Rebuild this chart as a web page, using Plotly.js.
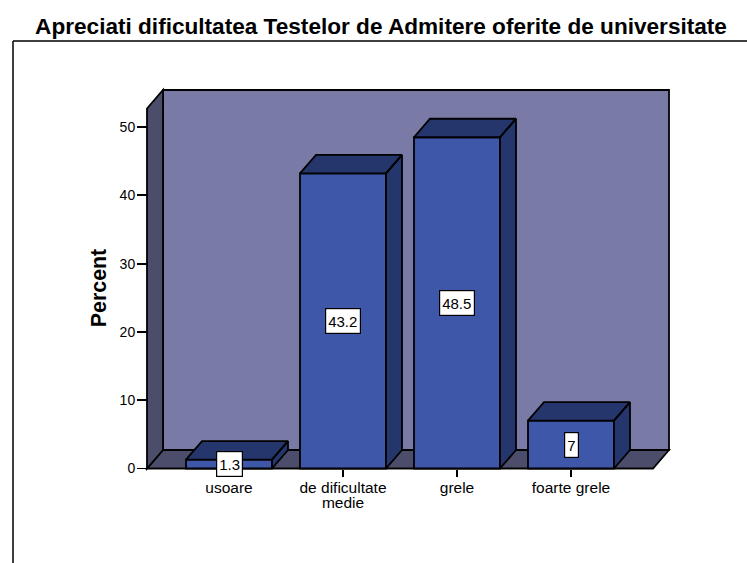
<!DOCTYPE html>
<html>
<head>
<meta charset="utf-8">
<script src="https://cdn.plot.ly/plotly-3.0.1.min.js"></script>
<style>html,body{margin:0;padding:0;background:#fff;overflow:hidden}</style>
</head>
<body>
<div id="chart" style="width:747px;height:563px"></div>
<script>
const categories = ["usoare", "de dificultate<br>medie", "grele", "foarte grele"];
const percents = [1.3, 43.2, 48.5, 7];
const labels = ["1.3", "43.2", "48.5", "7"];
const yTicks = [0, 10, 20, 30, 40, 50];

const FRONT = "#3e57a9", DARK = "#25366c", BACK = "#7a7aa7", WALL = "#4c4c6b";
const FONT = "Liberation Sans, Arial, sans-serif";

// scale of the drawing
const pxX = 114, pxY = 6.83, x0px = 229, y0px = 468.5;
const L = 140, R = 676, T = 84, B = 492;
const depthX = 16 / pxX, depthY = 18.5 / pxY, halfBar = 43 / pxX;
const frontL = (147 - x0px) / pxX, frontR = (653 - x0px) / pxX, frontTop = (y0px - 108.5) / pxY;
const xRange = [(L - x0px) / pxX, (R - x0px) / pxX];
const yRange = [(y0px - B) / pxY, (y0px - T) / pxY];

const xs = categories.map((_, i) => i);
const outline = {color: "#000", width: 1.8};

function poly(pts, fill) {
  return {
    type: "path", layer: "below", xref: "x", yref: "y",
    path: "M" + pts.map(p => p[0] + "," + p[1]).join("L") + "Z",
    fillcolor: fill, line: outline
  };
}

const shapes = [
  poly([[frontL + depthX, depthY], [frontR + depthX, depthY], [frontR + depthX, frontTop + depthY], [frontL + depthX, frontTop + depthY]], BACK),
  poly([[frontL, 0], [frontL + depthX, depthY], [frontR + depthX, depthY], [frontR, 0]], WALL),
  poly([[frontL, 0], [frontL, frontTop], [frontL + depthX, frontTop + depthY], [frontL + depthX, depthY]], WALL),
  // outer frame
  {type: "line", xref: "paper", yref: "paper",
   x0: (13 - L) / (R - L), x1: (747 - L) / (R - L), y0: (B - 41) / (B - T), y1: (B - 41) / (B - T),
   line: {color: "#000", width: 1.5}},
  {type: "line", xref: "paper", yref: "paper",
   x0: (13 - L) / (R - L), x1: (13 - L) / (R - L), y0: (B - 41) / (B - T), y1: (B - 563) / (B - T),
   line: {color: "#000", width: 1.5}}
];

const traces = [{
  type: "bar", x: xs, y: percents, width: 2 * halfBar,
  marker: {color: FRONT, line: {color: "#000", width: 1.8}},
  hoverinfo: "skip", showlegend: false, cliponaxis: false
}];

percents.forEach((v, i) => {
  const l = i - halfBar, r = i + halfBar;
  traces.push({
    type: "scatter", mode: "lines", fill: "toself", fillcolor: DARK,
    x: [l, l + depthX, r + depthX, r, l, null, r, r + depthX, r + depthX, r, r],
    y: [v, v + depthY, v + depthY, v, v, null, v, v + depthY, depthY, 0, v],
    line: {color: "#000", width: 1.8}, hoverinfo: "skip", showlegend: false
  });
});

const annotations = percents.map((v, i) => ({
  x: i, y: v / 2, xref: "x", yref: "y", text: labels[i], showarrow: false,
  font: {family: FONT, size: 15, color: "#000"},
  bgcolor: "#fff", bordercolor: "#000", borderwidth: 1.2, borderpad: 2, height: 20
}));

const layout = {
  width: 747, height: 563, autosize: false,
  paper_bgcolor: "#fff", plot_bgcolor: "rgba(0,0,0,0)",
  margin: {l: L, r: 747 - R, t: T, b: 563 - B, pad: 0},
  showlegend: false,
  title: {
    text: "Apreciati dificultatea Testelor de Admitere oferite de universitate",
    font: {family: FONT, size: 22.6, color: "#000", weight: "bold"},
    x: 381 / 747, xanchor: "center", xref: "container",
    y: 1 - 26 / 563, yanchor: "middle"
  },
  xaxis: {
    range: xRange, tickvals: xs, ticktext: categories, tickmode: "array",
    anchor: "free", position: (B - y0px) / (B - T),
    showgrid: false, zeroline: false, showline: false,
    ticks: "outside", ticklen: 7, tickwidth: 1.8, tickcolor: "#000",
    tickfont: {family: FONT, size: 15.5, color: "#000"}, tickangle: 0,
    ticklabelstandoff: -2
  },
  yaxis: {
    range: yRange, tickvals: yTicks, tickmode: "array",
    anchor: "free", position: (147 - L) / (R - L),
    showgrid: false, zeroline: false, showline: false,
    ticks: "outside", ticklen: 10, tickwidth: 1.8, tickcolor: "#000",
    tickfont: {family: FONT, size: 14, color: "#000"},
    ticklabelstandoff: -1,
    title: {text: "Percent", font: {family: FONT, size: 21.4, color: "#000", weight: "bold"}, standoff: 6}
  },
  shapes, annotations
};

Plotly.newPlot("chart", traces, layout, {displayModeBar: false, staticPlot: true}).then(() => {
  // tighter line spacing in the two-line tick label, as in the original
  document.querySelectorAll(".xtick text").forEach(t => {
    const lines = t.querySelectorAll("tspan.line");
    if (lines.length > 1) lines[1].setAttribute("dy", "15px");
  });
});
</script>
</body>
</html>
